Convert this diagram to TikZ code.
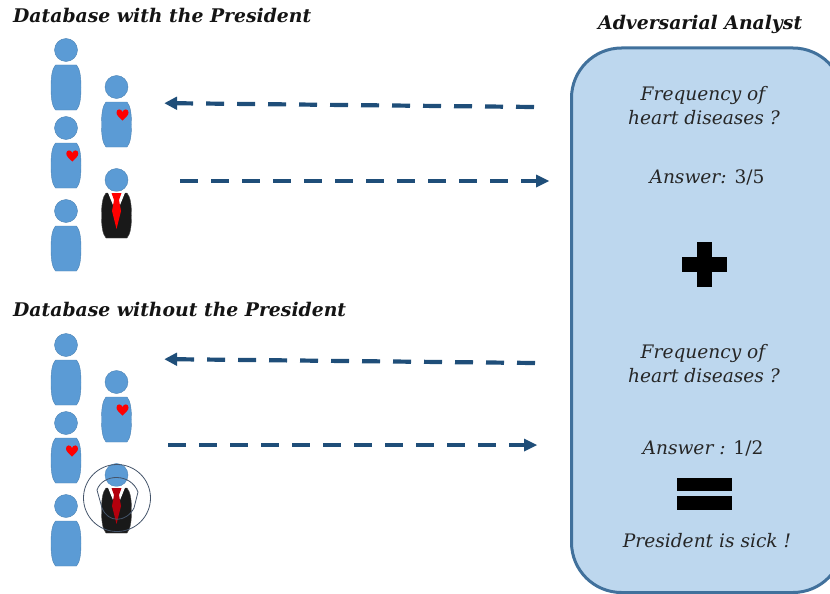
\documentclass[tikz,border=0pt]{standalone}
\usepackage{fontspec}
\setmainfont{DejaVu Serif}
\newfontfamily\numfont{DejaVu Serif}
\tikzset{
  x=1pt,y=-1pt,
}
\definecolor{personblue}{HTML}{5B9BD5}
\definecolor{arrowblue}{HTML}{1F4E79}
\definecolor{boxfill}{HTML}{BDD7EE}
\definecolor{boxline}{HTML}{41719C}
\definecolor{ringline}{HTML}{44546A}
\definecolor{tiered}{HTML}{E00010}
\tikzset{
  persona/.style={fill=personblue,draw=personblue!85!black,line width=0.4pt},
  flow/.style={draw=arrowblue,line width=4.2pt,dash pattern=on 18pt off 13pt},
  tip/.style={fill=arrowblue,draw=none},
  title/.style={anchor=base west,inner sep=0pt,font=\bfseries\itshape\fontsize{18.8}{22}\selectfont,text=black!92},
  body/.style={anchor=base,inner sep=0pt,font=\itshape\fontsize{18.6}{22}\selectfont,text=black!85},
  solid black/.style={fill=black,draw=none}
}
\newcommand{\torso}[3]{% cx, top, fill
  \path[#3] (#1-10.5,#2) -- (#1+10.5,#2)
    .. controls (#1+14,#2+4) and (#1+15,#2+12) .. (#1+15,#2+22.5)
    .. controls (#1+15,#2+33) and (#1+14,#2+41) .. (#1+10.5,#2+45)
    -- (#1-10.5,#2+45)
    .. controls (#1-14,#2+41) and (#1-15,#2+33) .. (#1-15,#2+22.5)
    .. controls (#1-15,#2+12) and (#1-14,#2+4) .. (#1-10.5,#2);
}
\newcommand{\headc}[2]{\path[persona] (#1,#2) circle[radius=11.5];}
\newcommand{\persn}[2]{\headc{#1}{#2}\torso{#1}{#2+15}{persona}}
\newcommand{\hrt}[2]{% centre x,y
  \path[fill=red] (#1,#2+6) .. controls (#1-3,#2+3) and (#1-6,#2+1) .. (#1-6,#2-2)
    .. controls (#1-6,#2-6) and (#1-1,#2-6) .. (#1,#2-2.5)
    .. controls (#1+1,#2-6) and (#1+6,#2-6) .. (#1+6,#2-2)
    .. controls (#1+6,#2+1) and (#1+3,#2+3) .. (#1,#2+6) -- cycle;
}
\newcommand{\prez}[3]{% cx, head y, tie colour
  \headc{#1}{#2}
  \path[fill=black!90,draw=black!70] (#1-10.5,#2+13) -- (#1+10.5,#2+13)
    .. controls (#1+14,#2+17) and (#1+15,#2+25) .. (#1+15,#2+35.5)
    .. controls (#1+15,#2+46) and (#1+14,#2+54) .. (#1+10.5,#2+58)
    -- (#1-10.5,#2+58)
    .. controls (#1-14,#2+54) and (#1-15,#2+46) .. (#1-15,#2+35.5)
    .. controls (#1-15,#2+25) and (#1-14,#2+17) .. (#1-10.5,#2+13);
  \path[fill=white] (#1-9,#2+11.5) -- (#1+9,#2+11.5) -- (#1+1.5,#2+30) -- (#1-1.5,#2+30) -- cycle;
  \path[fill=#3] (#1-5,#2+13) -- (#1+5,#2+13) -- (#1+2.5,#2+20) -- (#1+4.5,#2+31) -- (#1,#2+49) -- (#1-4.5,#2+31) -- (#1-2.5,#2+20) -- cycle;
}
\begin{document}
\begin{tikzpicture}
\useasboundingbox (0,0) rectangle (830,594);
% analyst panel
\begin{scope}
\clip (0,0) rectangle (830,594);
\draw[fill=boxfill,draw=boxline,line width=3pt,rounded corners=50pt] (571.5,48) rectangle (843,592.5);
\end{scope}
\coordinate (panelTopIn) at (540,181);
\coordinate (panelTopOut) at (534,107);
\coordinate (dbTopIn) at (172,103.2);
\coordinate (dbTopOut) at (180,181);
\coordinate (panelLowIn) at (528,445);
\coordinate (panelLowOut) at (535,363);
\coordinate (dbLowIn) at (172,359.2);
\coordinate (dbLowOut) at (168,445);
% upper database
\persn{66}{50}
\persn{66}{128}\hrt{72.3}{155.5}
\persn{66}{211}
\persn{116.5}{87}\hrt{122.5}{114.5}
\prez{116.5}{180}{red}
% lower database
\persn{66}{345}
\persn{66}{423}\hrt{72}{450.5}
\persn{66}{506}
\persn{116.5}{382}\hrt{122.5}{409.5}
\prez{116.5}{475}{tiered!80!black}
% rings
\path[draw=ringline,line width=0.8pt] (117,498) circle[radius=33.5];
\path[draw=ringline,line width=0.8pt] (97,490) .. controls (103,473) and (131,473) .. (138,492)
  -- (134,508) .. controls (126,523) and (108,523) .. (102,508) -- cycle;
% arrows
\draw[flow] (panelTopOut) -- (dbTopIn);
\draw[flow] (dbTopOut) -- (panelTopIn);
\draw[flow] (panelLowOut) -- (dbLowIn);
\draw[flow] (dbLowOut) -- (panelLowIn);
\path[tip] (164.5,103.2) -- (177,96.5) -- (177,110) -- cycle;
\path[tip] (549,181) -- (536,174.5) -- (536,187.5) -- cycle;
\path[tip] (164.5,359.2) -- (177,352.5) -- (177,366) -- cycle;
\path[tip] (537,445) -- (524,438.5) -- (524,451.5) -- cycle;
% titles
\node[title] (t1) at (13,23) {Database with the President};
\node[title] (t2) at (13,316) {Database without the President};
\node[title] (t3) at (598,30) {Adversarial Analyst};
% panel text
\node[body] (q1a) at (703,100) {Frequency of};
\node[body] (q1b) at (704,124.5) {heart diseases ?};
\node[body] (a1) at (707,183.5) {Answer: {\numfont\upshape 3/5}};
\node[body] (q2a) at (703,358) {Frequency of};
\node[body] (q2b) at (704,382.5) {heart diseases ?};
\node[body] (a2) at (703,454) {Answer : {\numfont\upshape 1/2}};
\node[body] (c) at (707,547.5) {President  is sick !};
% plus, equals
\path[solid black] (696.5,242) rectangle (711.5,287);
\path[solid black] (681.5,257) rectangle (726.5,272);
\path[solid black] (677,478) rectangle (732,491);
\path[solid black] (677,496) rectangle (732,509.5);
\end{tikzpicture}
\end{document}
